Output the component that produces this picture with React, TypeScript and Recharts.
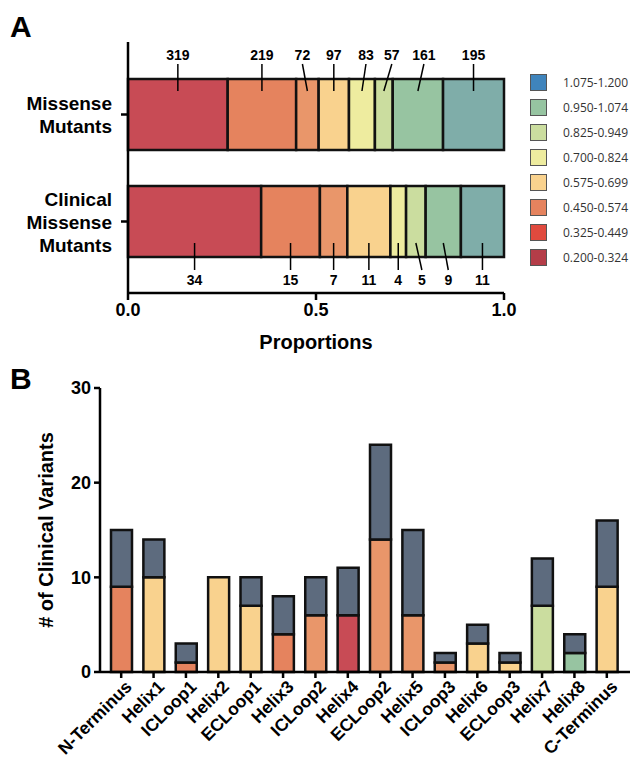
import React from 'react';
import { BarChart, Bar, XAxis, YAxis, Cell } from 'recharts';

const FONT = '"Liberation Sans", Arial, Helvetica, sans-serif';

// Panel A: proportions of missense variants by score group
const groupKeys = ['g1', 'g2', 'g3', 'g4', 'g5', 'g6', 'g7', 'g8'];
const groupColors = ['#C84B55', '#E5835E', '#E9966A', '#F9D28E', '#EEEC9F', '#CBDD9F', '#97C4A1', '#7FADA9'];
const cohortNames = ['Missense\nMutants', 'Clinical\nMissense\nMutants'];
const missenseCounts = [319, 219, 72, 97, 83, 57, 161, 195];
const clinicalCounts = [34, 15, 7, 11, 4, 5, 9, 11];
const proportionTicks = [0, 0.5, 1];

// legend bins
const legendBins = ['1.075-1.200', '0.950-1.074', '0.825-0.949', '0.700-0.824', '0.575-0.699', '0.450-0.574', '0.325-0.449', '0.200-0.324'];
const legendColors = ['#3F84BC', '#96C4A1', '#CBDD9F', '#EEEC9F', '#F9D28E', '#E5835E', '#E04A3E', '#B43D48'];

// Panel B: clinical variants per receptor region
const regions = ['N-Terminus', 'Helix1', 'ICLoop1', 'Helix2', 'ECLoop1', 'Helix3', 'ICLoop2', 'Helix4', 'ECLoop2', 'Helix5', 'ICLoop3', 'Helix6', 'ECLoop3', 'Helix7', 'Helix8', 'C-Terminus'];
const regionScored = [9, 10, 1, 10, 7, 4, 6, 6, 14, 6, 1, 3, 1, 7, 2, 9];
const regionOther = [6, 4, 2, 0, 3, 4, 4, 5, 10, 9, 1, 2, 1, 5, 2, 7];
const regionGroup = [1, 3, 1, 3, 3, 1, 2, 0, 2, 2, 2, 3, 3, 5, 6, 3];
const variantTicks = [0, 10, 20, 30];

const cohortCounts = [missenseCounts, clinicalCounts];
const cohortRows = cohortNames.map((name, i) => {
  const row: Record<string, any> = { name };
  groupKeys.forEach((k, j) => { row[k] = cohortCounts[i][j]; });
  return row;
});

const regionRows = regions.map((name, i) => ({
  name,
  scored: regionScored[i],
  other: regionOther[i],
}));

// small label nudges so crowded count labels don't collide
const topNudge = [0, 0, -5, 0, 4, 8, 6, 0];
const bottomNudge = [0, 0, 0, 0, 0, 6, 5, 0];

const segmentShape = (k: number) => (props: any) => {
  const { x, y, width, height, index } = props;
  const cx = x + width / 2;
  const count = cohortCounts[index][k];
  const label =
    index === 0 ? (
      <g>
        <line x1={cx} y1={y + 12} x2={cx + topNudge[k]} y2={y - 15} stroke="#000" strokeWidth={1.5} />
        <text x={cx + topNudge[k]} y={y - 19} textAnchor="middle" fontSize={14} fontWeight={700} fontFamily={FONT}>{count}</text>
      </g>
    ) : (
      <g>
        <line x1={cx} y1={y + height - 14} x2={cx + bottomNudge[k]} y2={y + height + 13} stroke="#000" strokeWidth={1.5} />
        <text x={cx + bottomNudge[k]} y={y + height + 28} textAnchor="middle" fontSize={14} fontWeight={700} fontFamily={FONT}>{count}</text>
      </g>
    );
  return (
    <g>
      <rect x={x} y={y} width={width} height={height} fill={groupColors[k]} stroke="#111" strokeWidth={2.5} />
      {label}
    </g>
  );
};

const CohortTick = (props: any) => {
  const { x, y, payload } = props;
  const lines = String(payload.value).split('\n');
  const lh = 23;
  const y0 = y - ((lines.length - 1) * lh) / 2 + 7;
  return (
    <text x={x} y={y0} textAnchor="end" fontFamily={FONT} fontWeight={700} fontSize={19} fill="#000">
      {lines.map((l, i) => (
        <tspan key={i} x={x} dy={i === 0 ? 0 : lh}>{l}</tspan>
      ))}
    </text>
  );
};

const RegionTick = (props: any) => {
  const { x, y, payload } = props;
  return (
    <g transform={`translate(${x + 4},${y}) rotate(-45)`}>
      <text x={0} y={0} dy={11} textAnchor="end" fontFamily={FONT} fontWeight={700} fontSize={17.5} fill="#000">
        {payload.value}
      </text>
    </g>
  );
};

const tickFont = { fontFamily: FONT, fontWeight: 700, fontSize: 18, fill: '#000' };

export default function App() {
  return (
    <div style={{ position: 'absolute', left: 0, top: 0, width: 630, height: 764, background: '#fff', fontFamily: FONT }}>
      <div style={{ position: 'absolute', left: 10, top: 10, fontSize: 30, fontWeight: 700 }}>A</div>
      <div style={{ position: 'absolute', left: 10, top: 362, fontSize: 30, fontWeight: 700 }}>B</div>

      <div style={{ position: 'absolute', left: 0, top: 0 }}>
        <BarChart
          width={630}
          height={360}
          data={cohortRows}
          layout="vertical"
          stackOffset="expand"
          margin={{ top: 42, right: 126, bottom: 0, left: 8 }}
        >
          <XAxis
            type="number"
            domain={[0, 1]}
            ticks={proportionTicks}
            tickFormatter={(v: number) => v.toFixed(1)}
            height={67}
            tickSize={7}
            tickMargin={3}
            tick={tickFont}
            axisLine={{ stroke: '#000', strokeWidth: 2.5 }}
            tickLine={{ stroke: '#000', strokeWidth: 2.5 }}
            label={{ value: 'Proportions', position: 'insideBottom', offset: 11, style: { fontFamily: FONT, fontWeight: 700, fontSize: 20, fill: '#000' } }}
          />
          <YAxis
            type="category"
            dataKey="name"
            width={120}
            padding={{ top: 19, bottom: 18 }}
            tickSize={7}
            tickMargin={9}
            tick={<CohortTick />}
            axisLine={{ stroke: '#000', strokeWidth: 2.5 }}
            tickLine={{ stroke: '#000', strokeWidth: 2.5 }}
          />
          {groupKeys.map((k, j) => (
            <Bar key={k} dataKey={k} stackId="a" barSize={71} fill={groupColors[j]} shape={segmentShape(j)} isAnimationActive={false} />
          ))}
        </BarChart>
      </div>

      <div style={{ position: 'absolute', left: 530, top: 70 }}>
        {legendBins.map((b, i) => (
          <div key={b} style={{ display: 'flex', alignItems: 'center', height: 25 }}>
            <div style={{ width: 17, height: 17, background: legendColors[i], border: '1px solid #555', boxSizing: 'border-box' }} />
            <span style={{ marginLeft: 16, fontFamily: '"Open Sans", sans-serif', fontSize: 12, color: '#333' }}>{b}</span>
          </div>
        ))}
      </div>

      <div style={{ position: 'absolute', left: 0, top: 340 }}>
        <BarChart
          width={630}
          height={424}
          data={regionRows}
          margin={{ top: 48, right: 0, bottom: 0, left: 8 }}
        >
          <XAxis
            dataKey="name"
            type="category"
            height={92}
            interval={0}
            padding={{ left: 5, right: 7 }}
            tickSize={6}
            tickMargin={2}
            tick={<RegionTick />}
            axisLine={{ stroke: '#000', strokeWidth: 2.5 }}
            tickLine={{ stroke: '#000', strokeWidth: 2.5 }}
          />
          <YAxis
            type="number"
            domain={[0, 30]}
            ticks={variantTicks}
            width={92}
            tickSize={6}
            tickMargin={3}
            tick={tickFont}
            axisLine={{ stroke: '#000', strokeWidth: 2.5 }}
            tickLine={{ stroke: '#000', strokeWidth: 2.5 }}
            label={{ value: '# of Clinical Variants', angle: -90, position: 'insideLeft', offset: 38, style: { textAnchor: 'middle', fontFamily: FONT, fontWeight: 700, fontSize: 20, fill: '#000' } }}
          />
          <Bar dataKey="scored" stackId="b" barSize={21} stroke="#111" strokeWidth={2.5} isAnimationActive={false}>
            {regionRows.map((r, i) => (
              <Cell key={r.name} fill={groupColors[regionGroup[i]]} />
            ))}
          </Bar>
          <Bar dataKey="other" stackId="b" barSize={21} fill="#5D6B7E" stroke="#111" strokeWidth={2.5} isAnimationActive={false} />
        </BarChart>
      </div>
    </div>
  );
}
